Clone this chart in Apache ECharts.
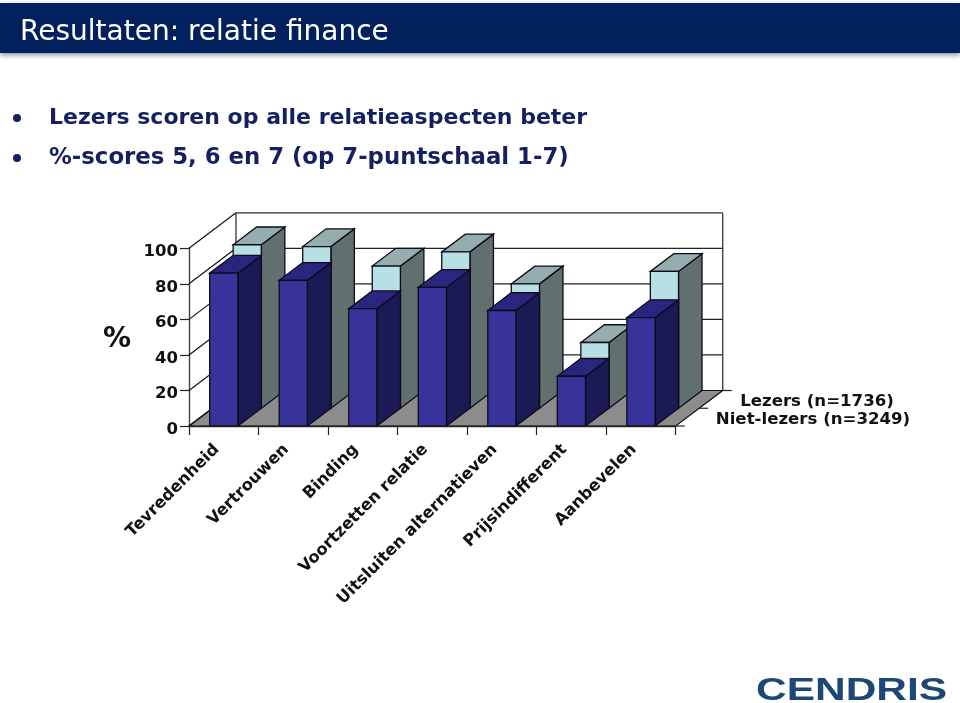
<!DOCTYPE html>
<html>
<head>
<meta charset="utf-8">
<style>html,body{margin:0;padding:0;background:#fff}#c{width:960px;height:703px}</style>
<script src="https://cdn.jsdelivr.net/npm/echarts@6/dist/echarts.min.js"></script>
</head>
<body>
<div id="c"></div>
<script>
const categories = ['Tevredenheid','Vertrouwen','Binding','Voortzetten relatie','Uitsluiten alternatieven','Prijsindifferent','Aanbevelen'];
const lezers = [86,82,66,78,65,28,61];
const nietLezers = [92,91,80,88,70,37,77];
const seriesNames = ['Lezers (n=1736)','Niet-lezers (n=3249)'];
const yTicks = [0,20,40,60,80,100];
const titleText = 'Resultaten: relatie finance';
const bullets = ['Lezers scoren op alle relatieaspecten beter','%-scores 5, 6 en 7 (op 7-puntschaal 1-7)'];

const DX = 47, DY = 35.5;
const FONT = '"DejaVu Sans", Verdana, sans-serif';
const NAVY = '#14205f';

function poly(points, fill, stroke, w) {
  return {type:'polygon', shape:{points}, style:{fill, stroke: stroke||'#0b0b1a', lineWidth: w===undefined?1.3:w}};
}
function line(a, b, color, w) {
  return {type:'line', shape:{x1:a[0],y1:a[1],x2:b[0],y2:b[1]}, style:{stroke:color||'#222', lineWidth:w||1, fill:null}};
}
function bar3d(row, colors) {
  return function (params, api) {
    const i = api.value(0), v = api.value(1);
    const band = api.size([1,0])[0];
    const base = api.coord([i,0]), top = api.coord([i,v]);
    const w = band*0.405;
    const ox = row*DX/2, oy = -row*DY/2;
    const x0 = base[0]-w/2+ox, x1 = x0+w;
    const yb = base[1]+oy, yt = top[1]+oy;
    const dx = DX/2, dy = DY/2;
    return {type:'group', children:[
      poly([[x1,yb],[x1+dx,yb-dy],[x1+dx,yt-dy],[x1,yt]], colors[2]),
      poly([[x0,yt],[x1,yt],[x1+dx,yt-dy],[x0+dx,yt-dy]], colors[1]),
      poly([[x0,yb],[x1,yb],[x1,yt],[x0,yt]], colors[0])
    ]};
  };
}
function renderWalls(params, api) {
  const o = api.coord([0,0]);
  const band = api.size([1,0])[0];
  const x0 = o[0]-band/2, x1 = x0+band*categories.length, y0 = o[1];
  const yT = api.coord([0,100])[1];
  const kids = [
    poly([[x0,y0],[x1,y0],[x1+DX,y0-DY],[x0+DX,y0-DY]], '#8c8c8c', '#111', 1.2),
    line([x0+DX,yT-DY],[x0+DX,y0-DY],'#222',1.2),
    line([x1+DX,yT-DY],[x1+DX,y0-DY],'#444',1.4),
    line([x0+DX,yT-DY],[x1+DX,yT-DY],'#666',1.8),
  ];
  yTicks.forEach(t=>{
    const y = api.coord([0,t])[1];
    kids.push(line([x0,y],[x0+DX,y-DY],'#111',1.2));
    if (t>0 && t<100) kids.push(line([x0+DX,y-DY],[x1+DX,y-DY],'#222',1.2));
  });
  [0,0.5,1].forEach(f=>{
    kids.push(line([x1+DX*f,y0-DY*f],[x1+DX*f+9,y0-DY*f],'#222',1.2));
  });
  return {type:'group', children:kids};
}

const chart = echarts.init(document.getElementById('c'), null, {renderer:'canvas', width:960, height:703});
chart.setOption({
  animation:false,
  backgroundColor:'#fff',
  title:{text:titleText, left:15, top:14, textStyle:{color:'#fff', fontFamily:FONT, fontWeight:'normal', fontSize:28}, z:10},
  grid:{left:189, top:248.3, width:486.7, height:177.7, containLabel:false},
  xAxis:{type:'category', data:categories, boundaryGap:true, z:5,
    axisLine:{lineStyle:{color:'#222',width:1.3}},
    axisTick:{show:true, alignWithLabel:false, length:9, lineStyle:{color:'#222',width:1.2}},
    axisLabel:{interval:0, rotate:45, margin:14, padding:[0,10,0,0], color:'#111', fontFamily:FONT, fontWeight:'bold', fontSize:16.3}},
  yAxis:{type:'value', min:0, max:100, interval:20, name:'%', nameLocation:'middle', nameRotate:0, nameGap:58,
    nameTextStyle:{color:'#111', fontFamily:FONT, fontWeight:'bold', fontSize:28, verticalAlign:'top', lineHeight:6},
    axisLine:{show:true, lineStyle:{color:'#444',width:1.4}},
    axisTick:{show:true, length:9, lineStyle:{color:'#222',width:1.2}},
    axisLabel:{margin:11, verticalAlign:'top', lineHeight:7, color:'#111', fontFamily:FONT, fontWeight:'bold', fontSize:16.5},
    splitLine:{show:false}},
  graphic:[
    {type:'rect', z:-1, shape:{x:0,y:3,width:960,height:50}, style:{fill:'#03205e', shadowColor:'rgba(0,0,0,0.45)', shadowBlur:5, shadowOffsetY:2}},
    {type:'circle', shape:{cx:17,cy:118,r:4}, style:{fill:NAVY}},
    {type:'circle', shape:{cx:17,cy:158,r:4}, style:{fill:NAVY}},
    {type:'text', left:49, top:107, style:{text:bullets[0], fill:NAVY, font:'bold 22px '+FONT}},
    {type:'text', left:49, top:147, style:{text:bullets[1], fill:NAVY, font:'bold 22.8px '+FONT}},
    {type:'text', x:817, y:401.5, style:{text:seriesNames[0], fill:'#111', align:'center', verticalAlign:'middle', font:'bold 16.6px '+FONT}},
    {type:'text', x:813, y:420, style:{text:seriesNames[1], fill:'#111', align:'center', verticalAlign:'middle', font:'bold 16.6px '+FONT}},
    {type:'text', x:756, y:691, scaleX:1.37, style:{text:'CENDRIS', fill:'#1d4775', verticalAlign:'middle', font:'bold 31px "Liberation Sans", Arial, sans-serif'}}
  ],
  series:[
    {type:'custom', name:'walls', clip:false, z:1, coordinateSystem:'cartesian2d', renderItem:renderWalls, data:[[0,0]], silent:true},
    {type:'custom', name:seriesNames[1], clip:false, z:2, renderItem:bar3d(1,['#b8dfe3','#96adad','#616f6f']),
      data:nietLezers.map((v,i)=>[i,v]), encode:{x:0,y:1}},
    {type:'custom', name:seriesNames[0], clip:false, z:3, renderItem:bar3d(0,['#38339a','#2a2680','#1c1a55']),
      data:lezers.map((v,i)=>[i,v]), encode:{x:0,y:1}}
  ]
});
</script>
</body>
</html>
